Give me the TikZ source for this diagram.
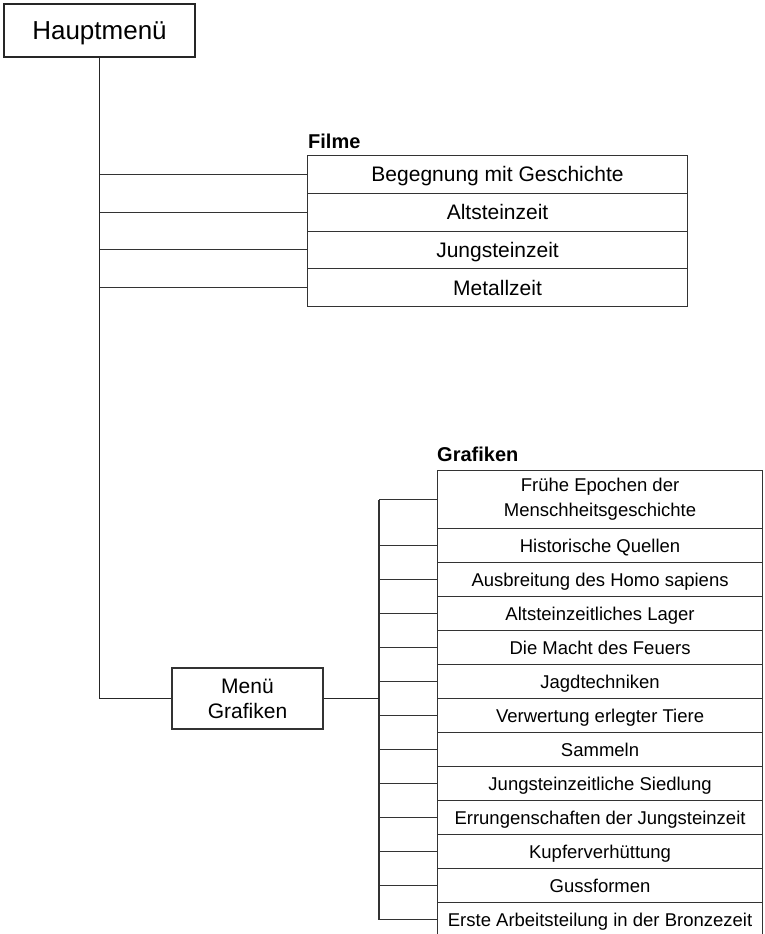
\documentclass[tikz,border=0pt]{standalone}
\usepackage{fontspec}
\setmainfont{Liberation Sans}
\begin{document}
\begin{tikzpicture}[x=1pt,y=-1pt,
  line/.style={draw=black!80,line width=1.1pt},
  thickline/.style={draw=black!85,line width=1.8pt},
  fbox/.style={draw=black!80,line width=1.1pt,minimum width=380pt,minimum height=37.75pt,inner sep=0pt,font=\fontsize{21}{24}\selectfont,text height=16.8pt,text depth=1.76pt,anchor=north west},
  gbox/.style={draw=black!80,line width=1.1pt,minimum width=325pt,minimum height=34pt,inner sep=0pt,font=\fontsize{18.5}{22}\selectfont,text height=14.8pt,text depth=1.55pt,anchor=north west,align=center},
  hdr/.style={font=\bfseries\fontsize{20}{22}\selectfont,anchor=base west,inner sep=0pt}]
\useasboundingbox (0,0) rectangle (764,934);
\node[draw=black!85,line width=1.8pt,minimum width=191pt,minimum height=53pt,inner sep=0pt,text height=20.8pt,text depth=2.2pt,font=\fontsize{26}{30}\selectfont] (haupt) at (99.5,30.5) {Hauptmenü};
% Filme
\node[hdr] (filme) at (308,148) {Filme};
\node[fbox] (f1) at (307,155) {Begegnung mit Geschichte};
\node[fbox] (f2) at (307,192.75) {Altsteinzeit};
\node[fbox] (f3) at (307,230.5) {Jungsteinzeit};
\node[fbox] (f4) at (307,268.25) {Metallzeit};
% Grafiken
\node[hdr] (graf) at (437,461) {Grafiken};
\node[gbox,minimum height=58pt,text height={},text depth={},font=\fontsize{18.5}{25}\selectfont] (g1) at (437,470) {Frühe Epochen der\\Menschheitsgeschichte};
\node[gbox] (g2) at (437,528) {Historische Quellen};
\node[gbox] (g3) at (437,562) {Ausbreitung des Homo sapiens};
\node[gbox] (g4) at (437,596) {Altsteinzeitliches Lager};
\node[gbox] (g5) at (437,630) {Die Macht des Feuers};
\node[gbox] (g6) at (437,664) {Jagdtechniken};
\node[gbox] (g7) at (437,698) {Verwertung erlegter Tiere};
\node[gbox] (g8) at (437,732) {Sammeln};
\node[gbox] (g9) at (437,766) {Jungsteinzeitliche Siedlung};
\node[gbox] (g10) at (437,800) {Errungenschaften der Jungsteinzeit};
\node[gbox] (g11) at (437,834) {Kupferverhüttung};
\node[gbox] (g12) at (437,868) {Gussformen};
\node[gbox] (g13) at (437,902) {Erste Arbeitsteilung in der Bronzezeit};
% Menü Grafiken
\node[draw=black!80,line width=1.1pt,minimum width=151pt,minimum height=61pt,inner sep=0pt,align=center,font=\fontsize{21}{25}\selectfont] (menu) at (247.5,698.5) {Menü\\Grafiken};
% connectors
\draw[thickline] (haupt.south) |- (menu.west);
\foreach \f in {f1,f2,f3,f4}{\draw[line] (haupt.south |- \f.west) -- (\f.west);}
\coordinate (gv) at (379,0);
\draw[line] (gv |- g1.west) -- (gv |- g13.west);
\foreach \g in {g1,g2,g3,g4,g5,g6,g7,g8,g9,g10,g11,g12,g13}{\draw[line] (gv |- \g.west) -- (\g.west);}
\draw[thickline] (menu.east) -- (gv |- menu.east);
\end{tikzpicture}
\end{document}
